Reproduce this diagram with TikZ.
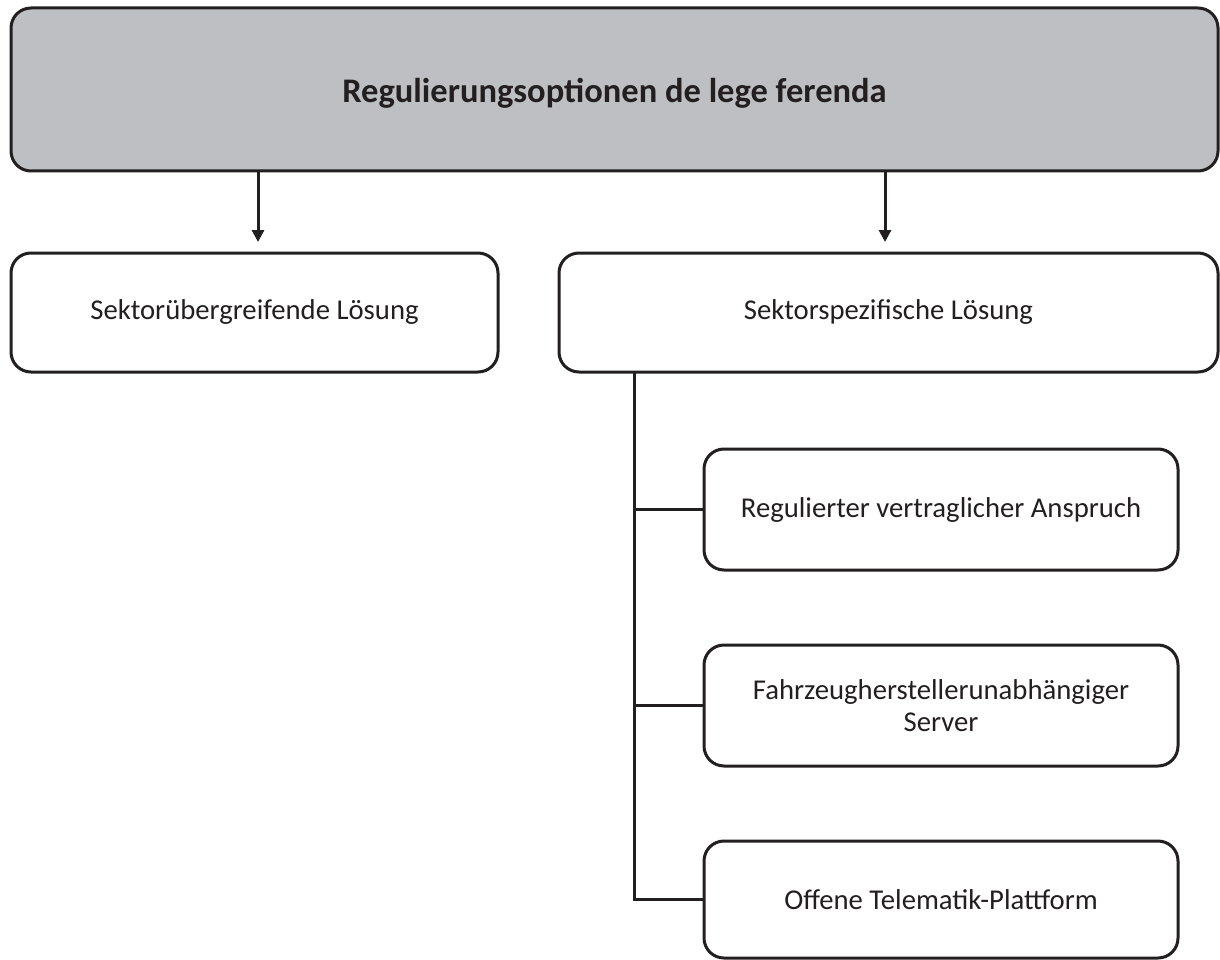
\documentclass[tikz,border=0pt]{standalone}
\usepackage{fontspec}
\setmainfont{Carlito}
\usetikzlibrary{arrows.meta}
\definecolor{ink}{HTML}{231F20}
\definecolor{headfill}{HTML}{BEBFC3}
\tikzset{
  x=1pt, y=-1pt,
  box/.style={draw=ink, line width=3pt, rounded corners=20pt, fill=white,
    text=ink, align=center, inner sep=0pt, font=\fontsize{28.7}{32.5}\selectfont},
  headbox/.style={box, fill=headfill, text height=27pt, text depth=0pt,
    font=\bfseries\fontsize{34.5}{40}\selectfont},
  link/.style={draw=ink, line width=3pt},
  arr/.style={link, -{Triangle[width=12pt,length=12pt]}}
}
\begin{document}
\begin{tikzpicture}
\useasboundingbox (0,0) rectangle (1220,960);

% top level
\node[headbox, minimum width=1207pt, minimum height=163pt] (head) at (614.5,89.5)
  {Regulierungsoptionen de lege ferenda};

% two main options
\node[box, minimum width=487pt, minimum height=119pt] (cross) at (254.5,312.5)
  {Sektorübergreifende Lösung};
\node[box, minimum width=659pt, minimum height=119pt] (spec) at (888.5,312.5)
  {Sektorspezifische Lösung};

% sector-specific variants
\node[box, minimum width=474pt, minimum height=121pt] (v1) at (941,509.5)
  {Regulierter vertraglicher Anspruch};
\node[box, minimum width=474pt, minimum height=121pt] (v2) at (941,705.5)
  {Fahrzeugherstellerunabhängiger\\Server};
\node[box, minimum width=474pt, minimum height=117pt] (v3) at (941,899.5)
  {Offene Telematik-Plattform};

% arrows from the head box
\coordinate (aL) at (258,171);
\coordinate (aR) at (885,171);
\draw[arr] (aL) -- (aL |- 0,242);
\draw[arr] (aR) -- (aR |- 0,242);

% tree connecting the variants
\coordinate (trunk) at (634,372);
\draw[link] (trunk) |- (v3.west);
\draw[link] (trunk |- v1.west) -- (v1.west);
\draw[link] (trunk |- v2.west) -- (v2.west);
\end{tikzpicture}
\end{document}
